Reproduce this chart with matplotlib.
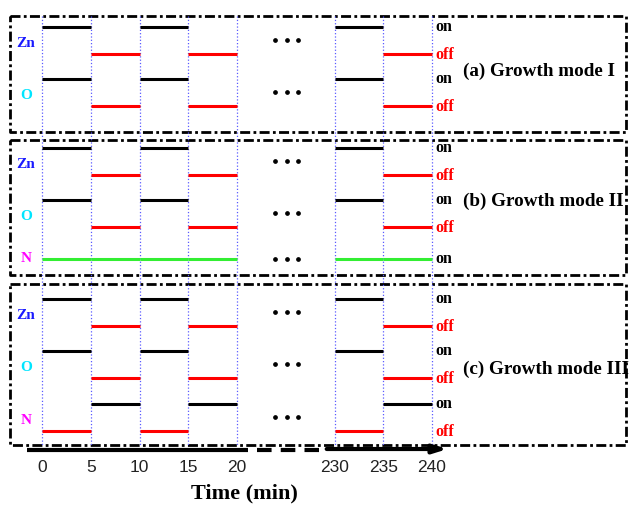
#Gas shutter timing diagram for three growth modes (Zn, O, N on/off)

import matplotlib.pyplot as plt

#time axis (min), the axis is broken between 20 and 230
tick_times = [0, 5, 10, 15, 20, 230, 235, 240]
tick_labels = ["0", "5", "10", "15", "20", "230", "235", "240"]

#5-min intervals drawn on the chart
starts = [0, 5, 10, 15, 230, 235]
ends = [5, 10, 15, 20, 235, 240]

#shutter state for each interval: 1 = on, 0 = off
zn_state = [1, 0, 1, 0, 1, 0]
o_state = [1, 0, 1, 0, 1, 0]
n_state_II = [1, 1, 1, 1, 1, 1]
n_state_III = [0, 1, 0, 1, 0, 1]

modes = ["(a) Growth mode I", "(b) Growth mode II", "(c) Growth mode III"]


def tx(t):
    #squeeze the broken axis: 230 sits 10 units after 20
    return t if t <= 20 else t - 200


#figure in pixel-like units: 1 unit of x = 9.75 px, y in px from top
fig = plt.figure(figsize=(6.29, 5.07), dpi=100)
ax = fig.add_axes([0, 0, 1, 1])
ax.set_xlim(-42 / 9.75, (629 - 42) / 9.75)
ax.set_ylim(507, 0)
ax.axis("off")

serif = "Liberation Serif"
sans = "Liberation Sans"
dashdot = (0, (3.6, 1.2, 1.0, 1.2))

#panel boxes (top, bottom) in px
boxes = [(16, 132), (140, 275), (284, 445)]
x0, x1 = (10 - 42) / 9.75, (626 - 42) / 9.75
for top, bot in boxes:
    ax.plot([x0, x1, x1, x0, x0], [top, top, bot, bot, top],
            color="black", lw=2, linestyle=dashdot)

#vertical dotted guides
for t in tick_times:
    ax.plot([tx(t), tx(t)], [16, 445], color="#5a5aff", lw=0.9, linestyle=":")

#rows of each panel: (label, colour, on level, states, line colour override)
panels = [
    [("Zn", "#1a1aff", 27, zn_state, None),
     ("O", "#00e5ff", 79, o_state, None)],
    [("Zn", "#1a1aff", 148, zn_state, None),
     ("O", "#00e5ff", 200, o_state, None),
     ("N", "#ff00ff", 259, n_state_II, "#33ee33")],
    [("Zn", "#1a1aff", 299, zn_state, None),
     ("O", "#00e5ff", 351, o_state, None),
     ("N", "#ff00ff", 404, n_state_III, None)],
]
step = 27
title_y = [71, 201, 369]

for p, rows in enumerate(panels):
    for name, col, y_on, states, override in rows:
        for s, e, st in zip(starts, ends, states):
            y = y_on if st else y_on + step
            c = override if override else ("black" if st else "red")
            ax.plot([tx(s), tx(e)], [y, y], color=c, lw=2.2,
                    solid_capstyle="butt")
        always_on = override is not None
        mid = y_on if always_on else y_on + step / 2
        ax.text(-1.64, mid + (0 if always_on else 3), name, color=col,
                fontsize=11, fontweight="bold", family=serif,
                ha="center", va="center")
        #dots for the skipped time
        dot_y = mid if always_on else mid - 1
        ax.plot([23.9, 25.1, 26.3], [dot_y] * 3, "o", color="black", ms=2.4)
        #on/off labels at the right
        ax.text(40.3, y_on, "on", color="black", fontsize=11.5,
                fontweight="bold", family=serif, va="center")
        if not always_on:
            ax.text(40.3, y_on + step + 1, "off", color="red", fontsize=11.5,
                    fontweight="bold", family=serif, va="center")
    ax.text(43.2, title_y[p], modes[p], color="black", fontsize=13.8,
            fontweight="bold", family=serif, va="center")

#time axis: solid part, broken part, arrow part
ax.plot([-1.54, 21.1], [450, 450], color="black", lw=3, solid_capstyle="butt")
ax.plot([22.1, 28.4], [450, 450], color="black", lw=3, linestyle=(0, (3.5, 2.2)))
ax.annotate("", xy=(41.6, 449), xytext=(29.2, 449),
            arrowprops=dict(arrowstyle="-|>,head_length=0.8,head_width=0.25",
                            color="black", lw=3, shrinkA=0, shrinkB=0))

for t, lab in zip(tick_times, tick_labels):
    ax.text(tx(t), 468, lab, fontsize=12.5, family=sans, color="#222222",
            ha="center", va="center")

ax.text(20.8, 493, "Time (min)", fontsize=16, fontweight="bold", family=serif,
        ha="center", va="center")

fig.savefig("out.png", dpi=100)
